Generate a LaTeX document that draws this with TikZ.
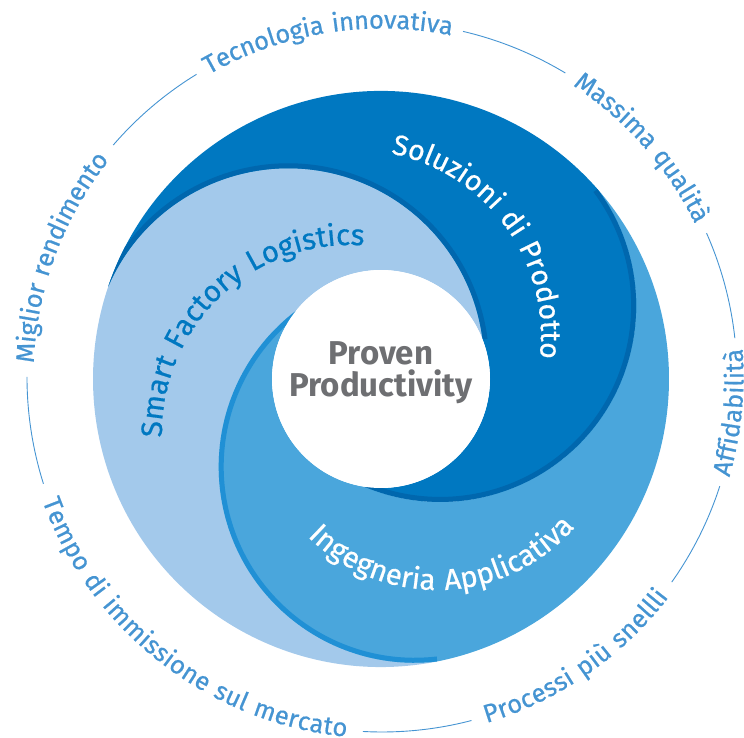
\documentclass[tikz,border=0pt]{standalone}
\usepackage{fontspec}
\setmainfont{Fira Sans}
\newfontfamily\ringfont[LetterSpace=7,FakeBold=0.6]{Fira Sans}
\usetikzlibrary{decorations.text}
\definecolor{darkfill}{HTML}{0078C1}
\definecolor{midfill}{HTML}{4AA6DC}
\definecolor{lightfill}{HTML}{A3C9EB}
\definecolor{darkedge}{HTML}{0067AE}
\definecolor{midedge}{HTML}{2090D5}
\definecolor{ringblue}{HTML}{4594D2}
\definecolor{coregray}{HTML}{6E6F72}
\newcommand{\ringsize}{\fontsize{25.5}{25.5}\selectfont\ringfont}
\newcommand{\armsize}{\fontsize{29.5}{29.5}\selectfont\ringfont}

\begin{document}
\begin{tikzpicture}[x=1pt,y=1pt]
  \tikzstyle{ring}=[draw=ringblue,line width=0.9pt]
  \tikzstyle{ringtext}=[decorate,decoration={text along path,text align=center,raise=-6.5pt,text color=ringblue}]
  \tikzstyle{armtext}=[decorate,decoration={text along path,text align=center}]
  \tikzstyle{hub}=[circle,fill=white,minimum size=218pt,inner sep=0pt]
  \useasboundingbox (-381,-359) rectangle (363,379);
  % the three arms
  \foreach \p/\col in {171/lightfill,291/midfill,51/darkfill}
    \fill[\col] ({\p-9.736}:288) arc[start angle=\p-14.39,end angle=\p-163.72,radius=196]
      arc[start angle=\p-149.73,end angle=\p-29.73,radius=109]
      arc[start angle=\p-43.72,end angle=\p+105.61,radius=196]
      arc[start angle=\p+110.264,end angle=\p-9.736,radius=288] -- cycle;
  % lips along the arm heads
  \begin{scope}
    \clip (0,0) circle[radius=288];
    \draw[darkedge,line width=5pt,shift={(171:94)}] (156.61:198.5) arc[start angle=156.61,end angle=7.28,radius=198.5];
    \draw[midedge,line width=5pt,shift={(291:94)}] (276.61:193.5) arc[start angle=276.61,end angle=127.28,radius=193.5];
    \draw[darkedge,line width=5pt,shift={(51:94)}] (36.61:193.5) arc[start angle=36.61,end angle=-112.72,radius=193.5];
  \end{scope}
  \node[hub] (hub) at (0,0) {};
  \node[text=coregray,align=center,font=\fontsize{33}{32}\selectfont\bfseries] (core) at (0,6) {Proven\\Productivity};
  % arm labels
  \path[armtext,decoration={text color=white,text={|\fontsize{28.5}{28.5}\selectfont\ringfont|Soluzioni di Prodotto}}] [shift={(-26,43)}] (86:186) arc[start angle=86,end angle=-14,radius=186];
  \path[armtext,decoration={text color=darkfill,text={|\armsize|Smart Factory Logistics}}] [shift={(-31,-54)}] (200:188) arc[start angle=200,end angle=67,radius=188];
  \path[armtext,decoration={text color=white,text={|\armsize|Ingegneria Applicativa}}] [shift={(56,-28)}] (210:183) arc[start angle=210,end angle=334,radius=183];
  % outer ring
  \begin{scope}[shift={(1,2)}]
    \foreach \a/\b in {121.5/139.2,58.9/76.8,6.3/23.9,-35.3/-17.9,-93.1/-75.4,180/197.5}
      \draw[ring] (\a:355) arc[start angle=\a,end angle=\b,radius=355];
    \path[ringtext,decoration={text={|\ringsize|Tecnologia innovativa}}] (121.5:355) arc[start angle=121.5,end angle=76.8,radius=355];
    \path[ringtext,decoration={text={|\ringsize|Massima qualità}}] (58.9:355) arc[start angle=58.9,end angle=23.9,radius=355];
    \path[ringtext,decoration={text={|\ringsize|Affidabilità}}] (-17.9:355) arc[start angle=-17.9,end angle=6.3,radius=355];
    \path[ringtext,decoration={text={|\ringsize|Processi più snellli}}] (-75.4:355) arc[start angle=-75.4,end angle=-35.3,radius=355];
    \path[ringtext,decoration={text={|\ringsize|Tempo di immissione sul mercato}}] (197.5:355) arc[start angle=197.5,end angle=266.9,radius=355];
    \path[ringtext,decoration={text={|\ringsize|Miglior rendimento}}] (180:355) arc[start angle=180,end angle=139.2,radius=355];
  \end{scope}
\end{tikzpicture}
\end{document}
